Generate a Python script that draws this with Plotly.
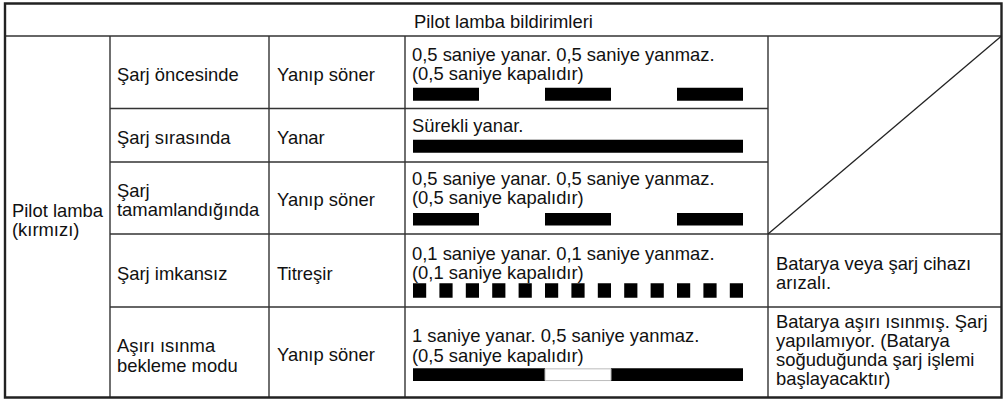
import plotly.graph_objects as go

# ---------------- data ----------------
header_title = "Pilot lamba bildirimleri"
lamp_name = ["Pilot lamba", "(kırmızı)"]
situations = [
    ["Şarj öncesinde"],
    ["Şarj sırasında"],
    ["Şarj", "tamamlandığında"],
    ["Şarj imkansız"],
    ["Aşırı ısınma", "bekleme modu"],
]
lamp_states = ["Yanıp söner", "Yanar", "Yanıp söner", "Titreşir", "Yanıp söner"]
descriptions = [
    ["0,5 saniye yanar. 0,5 saniye yanmaz.", "(0,5 saniye kapalıdır)"],
    ["Sürekli yanar."],
    ["0,5 saniye yanar. 0,5 saniye yanmaz.", "(0,5 saniye kapalıdır)"],
    ["0,1 saniye yanar. 0,1 saniye yanmaz.", "(0,1 saniye kapalıdır)"],
    ["1 saniye yanar. 0,5 saniye yanmaz.", "(0,5 saniye kapalıdır)"],
]
remarks = [
    [],
    [],
    [],
    ["Batarya veya şarj cihazı", "arızalı."],
    ["Batarya aşırı ısınmış. Şarj", "yapılamıyor. (Batarya", "soğuduğunda şarj işlemi", "başlayacaktır)"],
]
# blink patterns in seconds, alternating on / off, starting with "on"
blink_patterns = [
    [0.5, 0.5, 0.5, 0.5, 0.5],
    [2.5],
    [0.5, 0.5, 0.5, 0.5, 0.5],
    [0.1] * 25,
    [1.0, 0.5, 1.0],
]
timeline_seconds = 2.5

# ---------------- layout constants (pixels) ----------------
W, H = 1008, 400
FS = 18.4
FONT = "Liberation Sans, Arial, Helvetica, sans-serif"
TXT = "#111111"
LINE = "#333333"

col_x = [12, 117, 277, 412, 776]
header_y = 21
lamp_y = [210.3, 229.2]
sit_y = [[74], [137], [190.5, 209.8], [273], [345.5, 365.5]]
state_y = [74, 137, 199, 273, 354]
desc_y = [[54.7, 73.4], [125.5], [178.8, 197.5], [253.6, 272.3], [335.5, 355.5]]
remark_y = [[], [], [], [263.8, 282.8], [321.8, 340.8, 359.8, 378.8]]
bar_y = [94.2, 146.3, 219.2, 290.5, 374.7]
bar_h = [13, 13, 12.5, 14.5, 12.7]

fig = go.Figure()

# ---------------- blink bars ----------------
for r, pattern in enumerate(blink_patterns):
    on_base, on_len, off_base, off_len = [], [], [], []
    t = 0.0
    for k, d in enumerate(pattern):
        if k % 2 == 0:
            on_base.append(t); on_len.append(d)
        else:
            off_base.append(t); off_len.append(d)
        t += d
    fig.add_trace(go.Bar(
        orientation="h", base=on_base, x=on_len, y=[bar_y[r]] * len(on_len),
        width=bar_h[r], marker=dict(color="#000000", line=dict(width=0)),
        xaxis="x2", yaxis="y", showlegend=False, hoverinfo="skip"))
    if r == 4:
        fig.add_trace(go.Bar(
            orientation="h", base=off_base, x=off_len, y=[bar_y[r]] * len(off_len),
            width=bar_h[r] - 1, marker=dict(color="#ffffff", line=dict(width=1, color="#bbbbbb")),
            xaxis="x2", yaxis="y", showlegend=False, hoverinfo="skip"))

# ---------------- texts ----------------
ann = []
def add_text(x, y, s, xanchor="left"):
    ann.append(dict(x=x, y=y, xref="x", yref="y", text=s, showarrow=False,
                    xanchor=xanchor, yanchor="middle", borderpad=0, borderwidth=0,
                    font=dict(family=FONT, size=FS, color=TXT)))

add_text(503.5, header_y, header_title, xanchor="center")
for s, y in zip(lamp_name, lamp_y):
    add_text(col_x[0], y, s)
for r in range(5):
    for s, y in zip(situations[r], sit_y[r]):
        add_text(col_x[1], y, s)
    add_text(col_x[2], state_y[r], lamp_states[r])
    for s, y in zip(descriptions[r], desc_y[r]):
        add_text(col_x[3], y, s)
    for s, y in zip(remarks[r], remark_y[r]):
        add_text(col_x[4], y, s)

# ---------------- table lines ----------------
shapes = []
def ln(x0, y0, x1, y1, w=1.4, c=LINE):
    shapes.append(dict(type="line", xref="x", yref="y", x0=x0, y0=y0, x1=x1, y1=y1,
                       line=dict(color=c, width=w)))

L, R, T, B = 5, 1001.5, 3.5, 397.5
ln(L, 36, R, 36)
for x in (110, 269, 405, 768):
    ln(x, 36, x, B)
for y in (108.5, 162):
    ln(110, y, 768, y)
for y in (234, 307):
    ln(110, y, R, y)
ln(768, 234, R, 36, w=1.3, c="#222222")
shapes.append(dict(type="rect", xref="x", yref="y", x0=L, y0=T, x1=R, y1=B,
                   line=dict(color="#222222", width=2.4)))

fig.update_layout(
    width=W, height=H, margin=dict(l=0, r=0, t=0, b=0),
    paper_bgcolor="white", plot_bgcolor="white",
    barmode="overlay", showlegend=False,
    annotations=ann, shapes=shapes,
    xaxis=dict(range=[0, W], visible=False, fixedrange=True),
    xaxis2=dict(domain=[413 / W, 743 / W], range=[0, timeline_seconds],
                anchor="y", visible=False, fixedrange=True),
    yaxis=dict(range=[H, 0], visible=False, fixedrange=True),
)

fig.write_html("out.html", config={"displayModeBar": False},
               post_script="document.body.style.margin='0';")
